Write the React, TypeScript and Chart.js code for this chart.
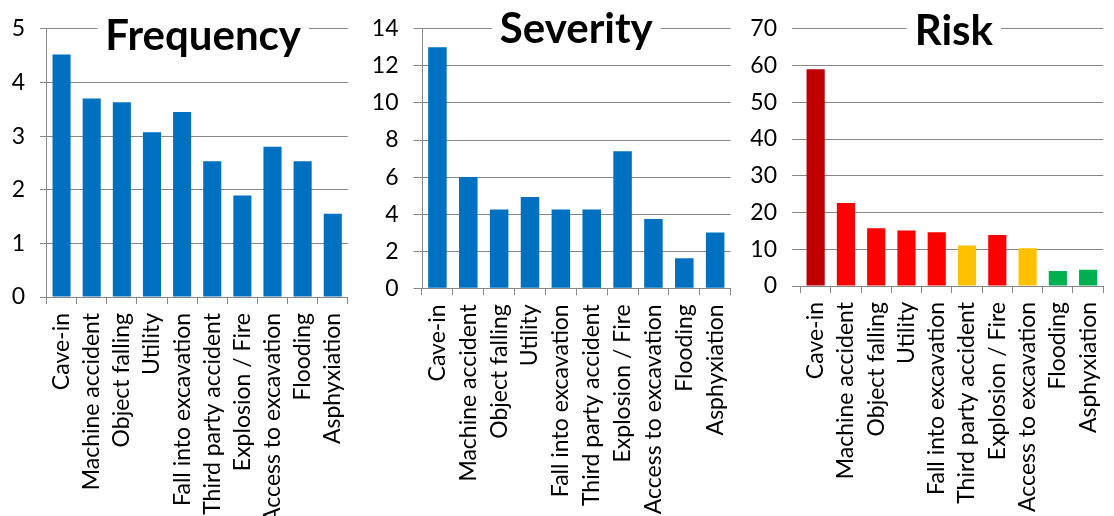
import React, { useEffect, useRef } from "react";
import { Chart, registerables } from "chart.js";

Chart.register(...registerables);

// Hazard categories shared by all three panels
const categories = [
  "Cave-in",
  "Machine accident",
  "Object falling",
  "Utility",
  "Fall into excavation",
  "Third party accident",
  "Explosion / Fire",
  "Access to excavation",
  "Flooding",
  "Asphyxiation",
];

const frequency = [4.52, 3.7, 3.63, 3.07, 3.45, 2.53, 1.89, 2.8, 2.53, 1.55];
const severity = [13, 6, 4.25, 4.92, 4.25, 4.25, 7.4, 3.74, 1.62, 3.01];
const risk = [59, 22.6, 15.7, 15.1, 14.6, 11, 13.9, 10.3, 4.1, 4.4];

// Risk level of each category (drives the bar colour in the Risk panel)
const riskLevels = ["extreme", "high", "high", "high", "high", "medium", "high", "medium", "low", "low"];

const frequencyAxis = { max: 5, step: 1 };
const severityAxis = { max: 14, step: 2 };
const riskAxis = { max: 70, step: 10 };

const BLUE = "#0070C0";
const GRID = "#878787";
const LEVEL_COLORS: Record<string, string> = {
  extreme: "#C00000",
  high: "#FF0000",
  medium: "#FFC000",
  low: "#00B050",
};

const FONT = "Lato, 'Open Sans', sans-serif";

// Draws the bold panel heading on a white plate over the top gridlines
const headingPlugin = {
  id: "heading",
  beforeDatasetsDraw(chart: any, _args: any, opts: any) {
    const { ctx, chartArea } = chart;
    ctx.save();
    ctx.font = `bold ${opts.size}px ${FONT}`;
    const w = ctx.measureText(opts.text).width;
    const cx = (chartArea.left + chartArea.right) / 2 + opts.dx;
    ctx.fillStyle = "#ffffff";
    ctx.fillRect(cx - w / 2 - 8, 0, w + 16, opts.baseline + 17);
    ctx.fillStyle = "#000000";
    ctx.textAlign = "center";
    ctx.textBaseline = "alphabetic";
    ctx.fillText(opts.text, cx, opts.baseline);
    ctx.restore();
  },
};

type PanelProps = {
  left: number;
  width: number;
  title: string;
  titleBaseline: number;
  titleDx: number;
  values: number[];
  colors: string | string[];
  axis: { max: number; step: number };
  yAxisWidth: number;
  padTop: number;
  padRight: number;
  xAxisHeight: number;
  yTickLength: number;
  showYBorder: boolean;
};

const HEIGHT = 516;

function Panel(p: PanelProps) {
  const ref = useRef<HTMLCanvasElement | null>(null);

  useEffect(() => {
    if (!ref.current) return;
    const chart = new Chart(ref.current, {
      type: "bar",
      data: {
        labels: categories,
        datasets: [
          {
            data: p.values,
            backgroundColor: p.colors,
            borderWidth: 0,
            categoryPercentage: 1,
            barPercentage: 0.6,
          },
        ],
      },
      options: {
        animation: false,
        responsive: false,
        maintainAspectRatio: false,
        devicePixelRatio: 1,
        layout: { padding: { top: p.padTop, right: p.padRight, left: 0, bottom: 0 } },
        plugins: {
          legend: { display: false },
          tooltip: { enabled: false },
          title: { display: false },
          heading: { text: p.title, size: 42, baseline: p.titleBaseline, dx: p.titleDx },
        } as any,
        scales: {
          x: {
            offset: true,
            grid: {
              offset: true,
              drawOnChartArea: false,
              drawTicks: true,
              tickLength: 7,
              color: GRID,
              lineWidth: 1,
            },
            border: { display: true, color: GRID, width: 1 },
            ticks: {
              autoSkip: false,
              minRotation: 90,
              maxRotation: 90,
              padding: 9,
              color: "#000",
              font: { family: FONT, size: 23 },
            },
            afterFit(scale: any) {
              scale.height = p.xAxisHeight;
            },
          },
          y: {
            min: 0,
            max: p.axis.max,
            grid: {
              color: GRID,
              lineWidth: 1,
              drawTicks: true,
              tickLength: p.yTickLength,
            },
            border: { display: p.showYBorder, color: GRID, width: 1 },
            ticks: {
              stepSize: p.axis.step,
              padding: 15,
              color: "#000",
              font: { family: FONT, size: 23 },
            },
            afterFit(scale: any) {
              scale.width = p.yAxisWidth;
            },
          },
        },
      },
      plugins: [headingPlugin],
    });
    return () => chart.destroy();
  }, []);

  return (
    <canvas
      ref={ref}
      width={p.width}
      height={HEIGHT}
      style={{ position: "absolute", left: p.left, top: 0, width: p.width, height: HEIGHT }}
    />
  );
}

export default function App() {
  const riskColors = riskLevels.map((l) => LEVEL_COLORS[l]);
  return (
    <div
      style={{
        position: "absolute",
        left: 0,
        top: 0,
        width: 1114,
        height: HEIGHT,
        overflow: "hidden",
        background: "#ffffff",
      }}
    >
      <Panel
        left={0}
        width={370}
        title="Frequency"
        titleBaseline={50}
        titleDx={6}
        values={frequency}
        colors={BLUE}
        axis={frequencyAxis}
        yAxisWidth={46.5}
        padTop={18}
        padRight={12.5}
        xAxisHeight={HEIGHT - 297}
        yTickLength={6.5}
        showYBorder={true}
      />
      <Panel
        left={362}
        width={390}
        title="Severity"
        titleBaseline={43}
        titleDx={0}
        values={severity}
        colors={BLUE}
        axis={severityAxis}
        yAxisWidth={60}
        padTop={17.3}
        padRight={5}
        xAxisHeight={HEIGHT - 288.3}
        yTickLength={8.5}
        showYBorder={true}
      />
      <Panel
        left={745}
        width={380}
        title="Risk"
        titleBaseline={45}
        titleDx={2}
        values={risk}
        colors={riskColors}
        axis={riskAxis}
        yAxisWidth={55.5}
        padTop={13.3}
        padRight={5.5}
        xAxisHeight={HEIGHT - 286}
        yTickLength={8.5}
        showYBorder={false}
      />
    </div>
  );
}
